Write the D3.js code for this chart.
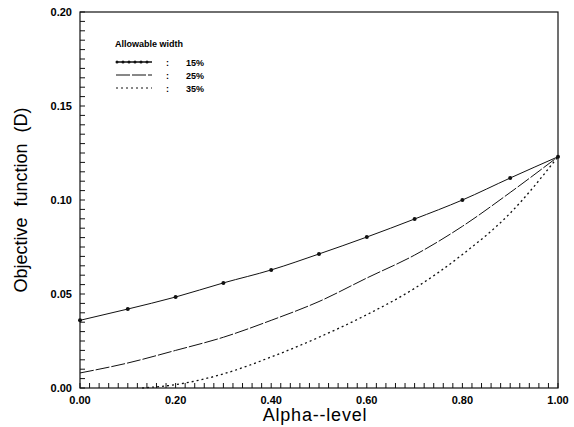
<!DOCTYPE html>
<html>
<head>
<meta charset="utf-8">
<script src="https://cdn.jsdelivr.net/npm/d3@7"></script>
<style>
  body { margin: 0; background: #fff; }
  text { font-family: "Liberation Sans", Arial, sans-serif; }
</style>
</head>
<body>
<div id="chart"></div>
<script>
// data
var alpha = [0.0, 0.1, 0.2, 0.3, 0.4, 0.5, 0.6, 0.7, 0.8, 0.9, 1.0];
var w15 = [0.036, 0.042, 0.0484, 0.0559, 0.0628, 0.0713, 0.0803, 0.0899, 0.100, 0.1117, 0.123];
var w25 = [0.008, 0.0133, 0.020, 0.027, 0.036, 0.046, 0.0585, 0.0707, 0.086, 0.104, 0.123];
var alpha35 = [0.13, 0.2, 0.3, 0.4, 0.5, 0.6, 0.7, 0.8, 0.9, 1.0];
var w35 = [0.0, 0.0018, 0.0075, 0.0165, 0.027, 0.039, 0.053, 0.071, 0.093, 0.123];
var xTicks = [0.0, 0.2, 0.4, 0.6, 0.8, 1.0];
var yTicks = [0.0, 0.05, 0.10, 0.15, 0.20];
var legendLabels = ["15%", "25%", "35%"];

var width = 574, height = 427;
var pLeft = 80, pRight = 558, pTop = 12, pBottom = 388;

var svg = d3.select("#chart").append("svg").attr("width", width).attr("height", height);

var x = d3.scaleLinear().domain([0, 1]).range([pLeft, pRight]);
var y = d3.scaleLinear().domain([0, 0.2]).range([pBottom, pTop]);

// frame
svg.append("rect")
  .attr("x", pLeft).attr("y", pTop)
  .attr("width", pRight - pLeft).attr("height", pBottom - pTop)
  .attr("fill", "none").attr("stroke", "#111").attr("stroke-width", 1.2);

// minor ticks (inward)
var g = svg.append("g").attr("stroke", "#111").attr("stroke-width", 1);
d3.range(0, 1.0001, 0.02).forEach(function(v) {
  g.append("line").attr("x1", x(v)).attr("x2", x(v)).attr("y1", pBottom).attr("y2", pBottom - 5);
});
d3.range(0, 0.2001, 0.005).forEach(function(v) {
  g.append("line").attr("x1", pLeft).attr("x2", pLeft + 5).attr("y1", y(v)).attr("y2", y(v));
});

// tick labels
svg.selectAll(".xt").data(xTicks).enter().append("text")
  .attr("x", function(d) { return x(d); })
  .attr("y", pBottom + 16)
  .attr("text-anchor", "middle")
  .attr("font-size", "11px").attr("font-weight", "bold")
  .text(function(d) { return d3.format(".2f")(d); });

svg.selectAll(".yt").data(yTicks).enter().append("text")
  .attr("x", pLeft - 8)
  .attr("y", function(d) { return y(d) + 4; })
  .attr("text-anchor", "end")
  .attr("font-size", "11px").attr("font-weight", "bold")
  .text(function(d) { return d3.format(".2f")(d); });

// axis titles
svg.append("text")
  .attr("x", 315).attr("y", 421)
  .attr("text-anchor", "middle")
  .attr("font-size", "18px")
  .attr("letter-spacing", "0.8px")
  .text("Alpha--level");

svg.append("text")
  .attr("transform", "translate(27," + 200 + ") rotate(-90)")
  .attr("text-anchor", "middle")
  .attr("font-size", "18px")
  .attr("word-spacing", "6px")
  .text("Objective function (D)");

// curves
var line = d3.line()
  .x(function(d) { return x(d[0]); })
  .y(function(d) { return y(d[1]); })
  .curve(d3.curveMonotoneX);

var s15 = d3.zip(alpha, w15);
var s25 = d3.zip(alpha, w25);
var s35 = d3.zip(alpha35, w35);

svg.append("path").attr("d", line(s15))
  .attr("fill", "none").attr("stroke", "#111").attr("stroke-width", 1);
svg.append("path").attr("d", line(s25))
  .attr("fill", "none").attr("stroke", "#111").attr("stroke-width", 1)
  .attr("stroke-dasharray", "14,2");
svg.append("path").attr("d", line(s35))
  .attr("fill", "none").attr("stroke", "#111").attr("stroke-width", 1.3)
  .attr("stroke-dasharray", "2,3");

svg.selectAll(".pt").data(s15).enter().append("circle")
  .attr("cx", function(d) { return x(d[0]); })
  .attr("cy", function(d) { return y(d[1]); })
  .attr("r", 2).attr("fill", "#111");

// legend
var lg = svg.append("g");
lg.append("text").attr("x", 115).attr("y", 47)
  .attr("font-size", "9px").attr("font-weight", "bold")
  .text("Allowable  width");

var styles = [null, "14,2", "2,3"];
legendLabels.forEach(function(lab, i) {
  var yy = 62 + i * 13;
  var ln = lg.append("line").attr("x1", 116).attr("x2", 152).attr("y1", yy).attr("y2", yy)
    .attr("stroke", "#111").attr("stroke-width", i == 0 ? 1.5 : 1);
  if (styles[i]) ln.attr("stroke-dasharray", styles[i]);
  if (i == 0) {
    d3.range(117, 153, 6).forEach(function(px) {
      lg.append("circle").attr("cx", px).attr("cy", yy).attr("r", 1.5).attr("fill", "#111");
    });
  }
  lg.append("text").attr("x", 166).attr("y", yy + 4)
    .attr("font-size", "9px").attr("font-weight", "bold").text(":");
  lg.append("text").attr("x", 186).attr("y", yy + 4)
    .attr("font-size", "9px").attr("font-weight", "bold").text(lab);
});
</script>
</body>
</html>
